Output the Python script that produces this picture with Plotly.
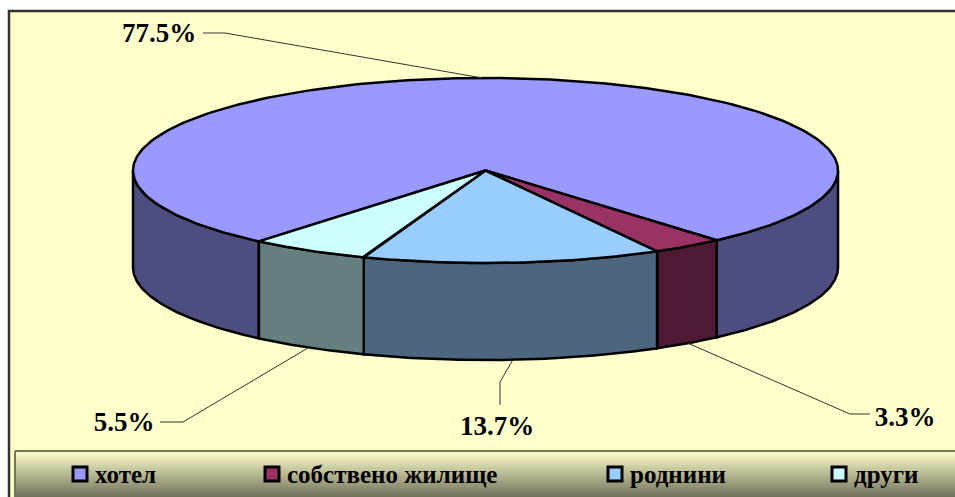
import numpy as np
import plotly.graph_objects as go

categories = ["хотел", "собствено жилище", "роднини", "други"]
values = [77.5, 3.3, 13.7, 5.5]
top_colors = ["#9999FF", "#993366", "#99CCFF", "#CCFFFF"]
side_colors = ["#4D4D80", "#4D1933", "#4D6680", "#668080"]

W, H = 955, 497
CX, CY, RX, RY, DEPTH = 485.5, 170.5, 352.5, 92.5, 97
START = 130.0
TOTAL = sum(values)

legend_marker_x = [80, 272, 615, 839]


def pt(a, drop=0.0):
    r = np.deg2rad(a)
    return CX + RX * np.cos(r), CY + RY * np.sin(r) + drop


fig = go.Figure()
shapes = []
# chart area
shapes.append(dict(type="rect", x0=9, y0=11, x1=W + 5, y1=H + 5, fillcolor="#FFFFCC",
                   line=dict(color="#333333", width=2.5), layer="below"))
# legend gradient
L0, L1 = 451, 497
for y in range(L0, L1):
    t = (y - L0) / (L1 - L0)
    c = (int(255 + (112 - 255) * t), int(255 + (112 - 255) * t), int(204 + (90 - 204) * t))
    shapes.append(dict(type="rect", x0=15, x1=W + 5, y0=y, y1=y + 1, fillcolor=f"rgb{c}",
                       line=dict(width=0), layer="below"))
shapes.append(dict(type="line", x0=15, x1=W + 5, y0=L0, y1=L0, line=dict(color="#77775A", width=2), layer="below"))
shapes.append(dict(type="line", x0=15, x1=15, y0=L0, y1=H, line=dict(color="#77775A", width=2), layer="below"))

# slice angle spans
spans = []
a = START
for v in values:
    b = a + v / TOTAL * 360
    spans.append((a, b))
    a = b

# side walls (front half only)
for (a0, b0), col, name in zip(spans, side_colors, categories):
    for shift in (0, -360):
        lo, hi = max(a0 + shift, 0), min(b0 + shift, 180)
        if hi <= lo:
            continue
        th = np.linspace(lo, hi, 80)
        xt, yt = pt(th)
        xb, yb = pt(th[::-1], DEPTH)
        fig.add_trace(go.Scatter(x=np.r_[xt, xb, xt[0]], y=np.r_[yt, yb, yt[0]], mode="lines", fill="toself",
                                 fillcolor=col, line=dict(color="black", width=2.5),
                                 hoverinfo="skip", showlegend=False))

# top faces
for (a0, b0), col, name in zip(spans, top_colors, categories):
    th = np.linspace(a0, b0, 240)
    xt, yt = pt(th)
    fig.add_trace(go.Scatter(x=np.r_[CX, xt, CX], y=np.r_[CY, yt, CY], mode="lines", fill="toself",
                             fillcolor=col, line=dict(color="black", width=2.5), name=name,
                             hoverinfo="name", showlegend=False))

# leader lines + labels
label_pos = [(159, 35), (905, 419), (497, 428), (124, 424)]
elbow = [(225, 33), (850, 414), (500, 382), (183, 422)]
stub = [(203, 33), (870, 414), (500, 405), (160, 422)]
for i, ((a0, b0), v) in enumerate(zip(spans, values)):
    mid = (a0 + b0) / 2
    drop = DEPTH if np.sin(np.deg2rad(mid)) > 0 else 0
    ax, ay = pt(mid, drop)
    fig.add_trace(go.Scatter(x=[stub[i][0], elbow[i][0], ax], y=[stub[i][1], elbow[i][1], ay], mode="lines",
                             line=dict(color="#333333", width=1), hoverinfo="skip", showlegend=False))
    fig.add_trace(go.Scatter(x=[label_pos[i][0]], y=[label_pos[i][1]], mode="text", text=[f"{v}%"],
                             textposition="middle center",
                             textfont=dict(family="Liberation Serif", size=27, color="black", weight="bold"),
                             hoverinfo="skip", showlegend=False))

# legend
for mx, name, col in zip(legend_marker_x, categories, top_colors):
    fig.add_trace(go.Scatter(x=[mx], y=[474], mode="markers",
                             marker=dict(symbol="square", size=14, color=col, line=dict(color="black", width=3)),
                             name=name, hoverinfo="skip", showlegend=False))
    fig.add_trace(go.Scatter(x=[mx + 15], y=[477], mode="text", text=[name], textposition="middle right",
                             textfont=dict(family="Liberation Serif", size=25, color="black", weight="bold"),
                             hoverinfo="skip", showlegend=False))

fig.update_layout(width=W, height=H, margin=dict(l=0, r=0, t=0, b=0), paper_bgcolor="white",
                  plot_bgcolor="rgba(0,0,0,0)", shapes=shapes, showlegend=False,
                  xaxis=dict(range=[0, W], visible=False, fixedrange=True),
                  yaxis=dict(range=[H, 0], visible=False, fixedrange=True))
fig.write_html("out.html", config={"displayModeBar": False},
               post_script="document.body.style.margin='0';document.body.style.overflow='hidden';")
